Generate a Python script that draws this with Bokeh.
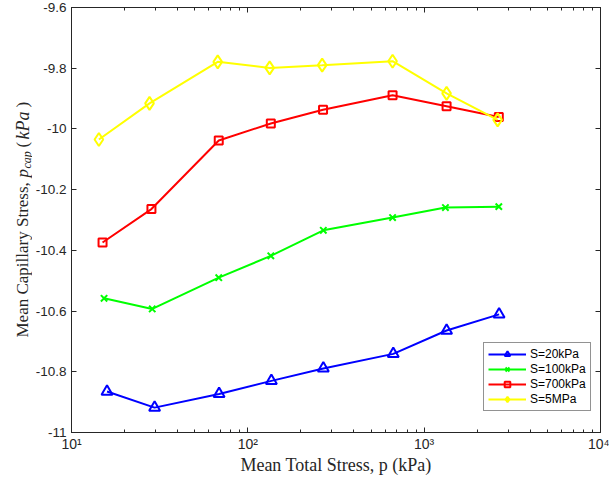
import math
from bokeh.plotting import figure
from bokeh.layouts import row
from bokeh.models import Range1d, FixedTicker, LogAxis, LinearAxis, Label
from bokeh.embed import file_html
from bokeh.resources import INLINE

# ---------------- data ----------------
p_20k = [15.9, 29.6, 68.7, 136, 268, 668, 1340, 2660]
s_20k = [-10.865, -10.918, -10.873, -10.830, -10.789, -10.741, -10.664, -10.611]

p_100k = [15.3, 28.7, 68.4, 135, 268, 662, 1320, 2650]
s_100k = [-10.558, -10.593, -10.490, -10.418, -10.334, -10.292, -10.259, -10.256]

p_700k = [15.0, 28.4, 68.4, 135, 267, 662, 1340, 2650]
s_700k = [-10.374, -10.264, -10.038, -9.982, -9.937, -9.889, -9.925, -9.961]

p_5M = [14.3, 27.7, 67.5, 133, 264, 662, 1340, 2610]
s_5M = [-10.035, -9.916, -9.779, -9.799, -9.790, -9.777, -9.883, -9.970]

series_labels = ["S=20kPa", "S=100kPa", "S=700kPa", "S=5MPa"]

x_ticks = [10, 100, 1000, 10000]
x_tick_labels = ["10\u00b9", "10\u00b2", "10\u00b3", "10\u2074"]
y_ticks = [-11.0, -10.8, -10.6, -10.4, -10.2, -10.0, -9.8, -9.6]
y_tick_labels = ["-11", "-10.8", "-10.6", "-10.4", "-10.2", "-10", "-9.8", "-9.6"]

# ---------------- layout ----------------
W, H = 609, 477
LW = 32                      # narrow strip holding the y-axis title
FL, FR, FT, FB = 69, 600, 7, 435   # frame edges in page pixels
AX = "#262626"

# strip with the y axis title (italic math pieces)
t = figure(width=LW, height=H, x_range=Range1d(0, 1), y_range=Range1d(0, 1),
           output_backend="svg", toolbar_location=None,
           x_axis_location=None, y_axis_location=None,
           min_border=0, min_border_left=0, min_border_right=0,
           min_border_top=0, min_border_bottom=0)
t.outline_line_color = None
t.xgrid.visible = False
t.ygrid.visible = False
t.background_fill_color = "white"
t.border_fill_color = "white"

def ylab(bx, by, text, size, style):
    t.add_layout(Label(x=bx, y=by, x_units="canvas", y_units="canvas",
                       text=text, angle=math.pi / 2,
                       text_font="Liberation Serif", text_font_size=f"{size}px",
                       text_font_style=style, text_align="left",
                       text_baseline="alphabetic", text_color=AX))

ylab(22, 337, "Mean Capillary Stress, ", 17, "normal")
ylab(22, 177, "p", 17, "italic")
ylab(26, 168, "cap", 12, "italic")
ylab(22, 147, "(", 17, "normal")
ylab(22, 139, "kPa", 18, "italic")
ylab(22, 107, ")", 17, "normal")

# main chart
p = figure(width=W - LW, height=H, x_axis_type="log",
           x_range=Range1d(10, 10000), y_range=Range1d(-11, -9.6),
           output_backend="svg", toolbar_location=None,
           min_border_left=FL - LW, min_border_right=W - FR,
           min_border_top=FT, min_border_bottom=H - FB)
p.background_fill_color = "white"
p.border_fill_color = "white"
p.xgrid.visible = False
p.ygrid.visible = False
p.outline_line_color = AX

minor = [m * 10 ** e for e in (1, 2, 3) for m in range(2, 10)]
xticker = FixedTicker(ticks=x_ticks, minor_ticks=minor)
yticker = FixedTicker(ticks=y_ticks)

def style_axis(ax):
    ax.axis_line_color = AX
    ax.major_tick_line_color = AX
    ax.minor_tick_line_color = AX
    ax.major_tick_in = 5
    ax.major_tick_out = 0
    ax.minor_tick_in = 3
    ax.minor_tick_out = 0
    ax.major_label_text_font = "Liberation Sans"
    ax.major_label_text_font_size = "13.5px"
    ax.major_label_text_color = AX

xa = p.xaxis[0]
xa.ticker = xticker
style_axis(xa)
xa.major_label_overrides = dict(zip(x_ticks, x_tick_labels))
xa.major_label_text_font_size = "14px"
xa.major_label_standoff = 3
xa.axis_label = "Mean Total Stress, p (kPa)"
xa.axis_label_text_font = "Liberation Serif"
xa.axis_label_text_font_size = "18px"
xa.axis_label_text_font_style = "normal"
xa.axis_label_text_color = AX
xa.axis_label_standoff = 0

ya = p.yaxis[0]
ya.ticker = yticker
style_axis(ya)
ya.minor_tick_line_color = None
ya.major_label_overrides = dict(zip(y_ticks, y_tick_labels))
ya.major_label_standoff = 5

top = LogAxis(ticker=xticker)
style_axis(top)
top.major_label_text_font_size = "1px"
top.major_label_text_alpha = 0
top.major_label_standoff = 0
p.add_layout(top, "above")

right = LinearAxis(ticker=yticker)
style_axis(right)
right.minor_tick_line_color = None
right.major_label_text_font_size = "1px"
right.major_label_text_alpha = 0
right.major_label_standoff = 0
p.add_layout(right, "right")

specs = [
    (p_20k, s_20k, "#0000FF", "triangle", 11),
    (p_100k, s_100k, "#00FF00", "x", 9),
    (p_700k, s_700k, "#FF0000", "square", 8),
    (p_5M, s_5M, "#FFFF00", "diamond", 13),
]
for (xs, ys, col, mk, sz), lab in zip(specs, series_labels):
    p.line(xs, ys, line_color=col, line_width=2, legend_label=lab)
    p.scatter(xs, ys, marker=mk, size=sz, line_color=col, line_width=2,
              fill_alpha=0, legend_label=lab)

lg = p.legend[0]
lg.location = (481 - FL, FB - 414)
lg.margin = 0
lg.padding = 4
lg.spacing = 1
lg.glyph_width = 38
lg.glyph_height = 14
lg.label_height = 14
lg.label_standoff = 4
lg.label_text_font = "Liberation Sans"
lg.label_text_font_size = "12px"
lg.label_text_color = "black"
lg.border_line_color = AX
lg.border_line_width = 1
lg.background_fill_color = "white"
lg.background_fill_alpha = 1

layout = row(t, p, spacing=0)
open("out.html", "w").write(file_html(layout, INLINE))
